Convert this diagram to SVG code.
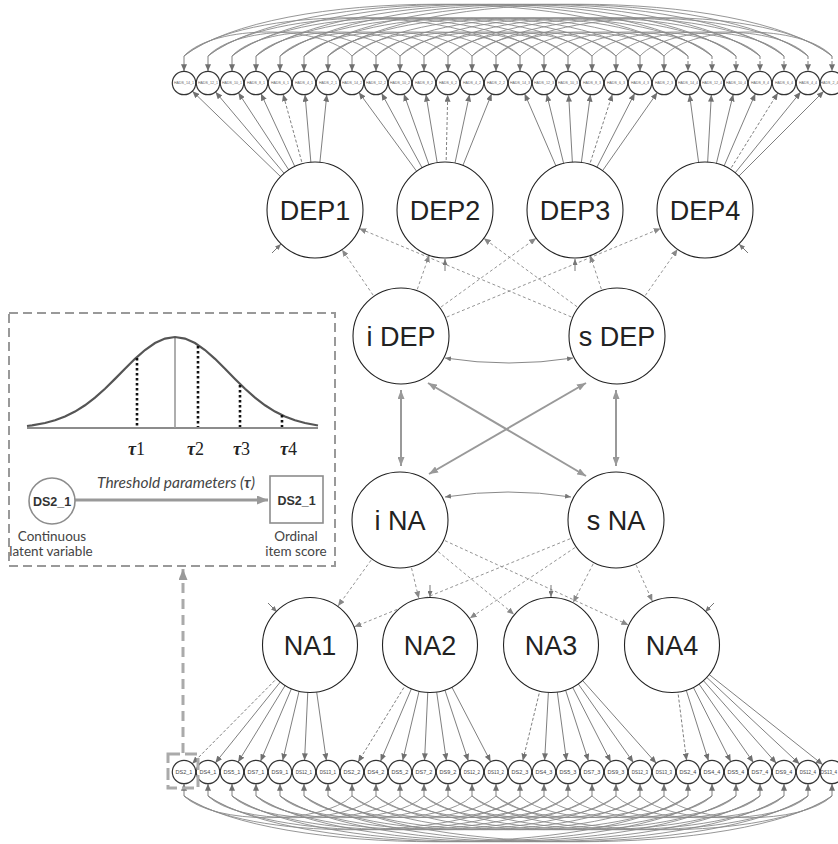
<svg xmlns="http://www.w3.org/2000/svg" xmlns:xlink="http://www.w3.org/1999/xlink" width="838" height="844" viewBox="0 0 838 844">
<style>
.big circle{fill:#fff;stroke:#222;stroke-width:1.1}
.big text{font-family:"Liberation Sans",Arial,sans-serif;font-size:27px;text-anchor:middle;fill:#222}
.it circle{fill:#fff;stroke:#333;stroke-width:1.2}
.it text{font-family:"Liberation Sans",Arial,sans-serif;font-size:3.6px;text-anchor:middle;fill:#666}
.ds text{font-size:5.5px;fill:#444}
.ds text.s{font-size:4.5px}
.ld{stroke:#707070;stroke-width:0.9;fill:none;marker-end:url(#ahI)}
.dd{stroke-dasharray:3 2}
.gl{stroke:#888;stroke-width:0.9;stroke-dasharray:3 2.5;fill:none;marker-end:url(#ahB)}
.arc{fill:none;stroke:#8a8a8a;stroke-width:0.9}
.cv{stroke:#999;stroke-width:2;fill:none;marker-start:url(#ahG);marker-end:url(#ahG)}
.cc{stroke:#888;stroke-width:1;fill:none;marker-start:url(#ahS);marker-end:url(#ahS)}
.rs{stroke:#777;stroke-width:1;fill:none;marker-end:url(#ahS)}
.lbl{font-family:Lato,"Open Sans","Liberation Sans",sans-serif;fill:#444;text-anchor:middle}
.tau{font-family:"Liberation Serif","DejaVu Serif",serif;font-size:18px;fill:#222}
</style>
<defs>
<marker id="ahI" markerUnits="userSpaceOnUse" markerWidth="19" markerHeight="6" refX="18.7" refY="3" orient="auto"><path d="M0,0 L7,3 L0,6 z" fill="#707070"/></marker>
<marker id="ahB" markerUnits="userSpaceOnUse" markerWidth="56" markerHeight="6" refX="55" refY="3" orient="auto"><path d="M0,0 L7,3 L0,6 z" fill="#888"/></marker>
<marker id="ahG" markerUnits="userSpaceOnUse" markerWidth="9" markerHeight="7" refX="9" refY="3.5" orient="auto-start-reverse"><path d="M0,0 L9,3.5 L0,7 z" fill="#999"/></marker>
<marker id="ahS" markerUnits="userSpaceOnUse" markerWidth="6" markerHeight="5" refX="6" refY="2.5" orient="auto-start-reverse"><path d="M0,0 L6,2.5 L0,5 z" fill="#777"/></marker>
<marker id="ahT" markerUnits="userSpaceOnUse" markerWidth="11" markerHeight="9" refX="11" refY="4.5" orient="auto"><path d="M0,0 L11,4.5 L0,9 z" fill="#999"/></marker>
<path id="t1" d="M0,0 C30,-32 138,-32 168,0"/>
<path id="t2" d="M0,0 C60,-51 276,-51 336,0"/>
<path id="t3" d="M0,0 C90,-69 414,-69 504,0"/>
<path id="b1" d="M0,0 C30,29 138,29 168,0"/>
<path id="b2" d="M0,0 C60,45 276,45 336,0"/>
<path id="b3" d="M0,0 C90,61 414,61 504,0"/>
</defs>
<rect width="838" height="844" fill="#fff"/>
<g id="connectors">
<g id="top-arcs" class="arc">
<use href="#t1" x="184" y="56"/><use href="#t1" x="208" y="56"/><use href="#t1" x="232" y="56"/><use href="#t1" x="256" y="56"/><use href="#t1" x="280" y="56"/><use href="#t1" x="304" y="56"/><use href="#t1" x="328" y="56"/>
<use href="#t1" x="352" y="56"/><use href="#t1" x="376" y="56"/><use href="#t1" x="400" y="56"/><use href="#t1" x="424" y="56"/><use href="#t1" x="448" y="56"/><use href="#t1" x="472" y="56"/><use href="#t1" x="496" y="56"/>
<use href="#t1" x="520" y="56"/><use href="#t1" x="544" y="56"/><use href="#t1" x="568" y="56"/><use href="#t1" x="592" y="56"/><use href="#t1" x="616" y="56"/><use href="#t1" x="640" y="56"/><use href="#t1" x="664" y="56"/>
<use href="#t2" x="184" y="56"/><use href="#t2" x="208" y="56"/><use href="#t2" x="232" y="56"/><use href="#t2" x="256" y="56"/><use href="#t2" x="280" y="56"/><use href="#t2" x="304" y="56"/><use href="#t2" x="328" y="56"/>
<use href="#t2" x="352" y="56"/><use href="#t2" x="376" y="56"/><use href="#t2" x="400" y="56"/><use href="#t2" x="424" y="56"/><use href="#t2" x="448" y="56"/><use href="#t2" x="472" y="56"/><use href="#t2" x="496" y="56"/>
<use href="#t3" x="184" y="56"/><use href="#t3" x="208" y="56"/><use href="#t3" x="232" y="56"/><use href="#t3" x="256" y="56"/><use href="#t3" x="280" y="56"/><use href="#t3" x="304" y="56"/><use href="#t3" x="328" y="56"/>
</g>
<g id="bottom-arcs" class="arc">
<use href="#b1" x="184" y="796"/><use href="#b1" x="208" y="796"/><use href="#b1" x="232" y="796"/><use href="#b1" x="256" y="796"/><use href="#b1" x="280" y="796"/><use href="#b1" x="304" y="796"/><use href="#b1" x="328" y="796"/>
<use href="#b1" x="352" y="796"/><use href="#b1" x="376" y="796"/><use href="#b1" x="400" y="796"/><use href="#b1" x="424" y="796"/><use href="#b1" x="448" y="796"/><use href="#b1" x="472" y="796"/><use href="#b1" x="496" y="796"/>
<use href="#b1" x="520" y="796"/><use href="#b1" x="544" y="796"/><use href="#b1" x="568" y="796"/><use href="#b1" x="592" y="796"/><use href="#b1" x="616" y="796"/><use href="#b1" x="640" y="796"/><use href="#b1" x="664" y="796"/>
<use href="#b2" x="184" y="796"/><use href="#b2" x="208" y="796"/><use href="#b2" x="232" y="796"/><use href="#b2" x="256" y="796"/><use href="#b2" x="280" y="796"/><use href="#b2" x="304" y="796"/><use href="#b2" x="328" y="796"/>
<use href="#b2" x="352" y="796"/><use href="#b2" x="376" y="796"/><use href="#b2" x="400" y="796"/><use href="#b2" x="424" y="796"/><use href="#b2" x="448" y="796"/><use href="#b2" x="472" y="796"/><use href="#b2" x="496" y="796"/>
<use href="#b3" x="184" y="796"/><use href="#b3" x="208" y="796"/><use href="#b3" x="232" y="796"/><use href="#b3" x="256" y="796"/><use href="#b3" x="280" y="796"/><use href="#b3" x="304" y="796"/><use href="#b3" x="328" y="796"/>
</g>
<g id="top-stubs">
<line class="ld" x1="184" y1="56" x2="184" y2="83"/><line class="ld" x1="208" y1="56" x2="208" y2="83"/><line class="ld" x1="232" y1="56" x2="232" y2="83"/><line class="ld" x1="256" y1="56" x2="256" y2="83"/><line class="ld" x1="280" y1="56" x2="280" y2="83"/><line class="ld" x1="304" y1="56" x2="304" y2="83"/><line class="ld" x1="328" y1="56" x2="328" y2="83"/>
<line class="ld" x1="352" y1="56" x2="352" y2="83"/><line class="ld" x1="376" y1="56" x2="376" y2="83"/><line class="ld" x1="400" y1="56" x2="400" y2="83"/><line class="ld" x1="424" y1="56" x2="424" y2="83"/><line class="ld" x1="448" y1="56" x2="448" y2="83"/><line class="ld" x1="472" y1="56" x2="472" y2="83"/><line class="ld" x1="496" y1="56" x2="496" y2="83"/>
<line class="ld" x1="520" y1="56" x2="520" y2="83"/><line class="ld" x1="544" y1="56" x2="544" y2="83"/><line class="ld" x1="568" y1="56" x2="568" y2="83"/><line class="ld" x1="592" y1="56" x2="592" y2="83"/><line class="ld" x1="616" y1="56" x2="616" y2="83"/><line class="ld" x1="640" y1="56" x2="640" y2="83"/><line class="ld" x1="664" y1="56" x2="664" y2="83"/>
<line class="ld dd" x1="688" y1="56" x2="688" y2="83"/><line class="ld dd" x1="712" y1="56" x2="712" y2="83"/><line class="ld dd" x1="736" y1="56" x2="736" y2="83"/><line class="ld dd" x1="760" y1="56" x2="760" y2="83"/><line class="ld dd" x1="784" y1="56" x2="784" y2="83"/><line class="ld dd" x1="808" y1="56" x2="808" y2="83"/><line class="ld dd" x1="832" y1="56" x2="832" y2="83"/>
</g>
<g id="bottom-stubs">
<line class="ld" x1="184" y1="796" x2="184" y2="772"/><line class="ld" x1="208" y1="796" x2="208" y2="772"/><line class="ld" x1="232" y1="796" x2="232" y2="772"/><line class="ld" x1="256" y1="796" x2="256" y2="772"/><line class="ld" x1="280" y1="796" x2="280" y2="772"/><line class="ld" x1="304" y1="796" x2="304" y2="772"/><line class="ld" x1="328" y1="796" x2="328" y2="772"/>
<line class="ld" x1="352" y1="796" x2="352" y2="772"/><line class="ld" x1="376" y1="796" x2="376" y2="772"/><line class="ld" x1="400" y1="796" x2="400" y2="772"/><line class="ld" x1="424" y1="796" x2="424" y2="772"/><line class="ld" x1="448" y1="796" x2="448" y2="772"/><line class="ld" x1="472" y1="796" x2="472" y2="772"/><line class="ld" x1="496" y1="796" x2="496" y2="772"/>
<line class="ld" x1="520" y1="796" x2="520" y2="772"/><line class="ld" x1="544" y1="796" x2="544" y2="772"/><line class="ld" x1="568" y1="796" x2="568" y2="772"/><line class="ld" x1="592" y1="796" x2="592" y2="772"/><line class="ld" x1="616" y1="796" x2="616" y2="772"/><line class="ld" x1="640" y1="796" x2="640" y2="772"/><line class="ld" x1="664" y1="796" x2="664" y2="772"/>
<line class="ld" x1="688" y1="796" x2="688" y2="772"/><line class="ld" x1="712" y1="796" x2="712" y2="772"/><line class="ld" x1="736" y1="796" x2="736" y2="772"/><line class="ld" x1="760" y1="796" x2="760" y2="772"/><line class="ld" x1="784" y1="796" x2="784" y2="772"/><line class="ld" x1="808" y1="796" x2="808" y2="772"/><line class="ld" x1="832" y1="796" x2="832" y2="772"/>
</g>
<g id="dep-loadings">
<line class="ld" x1="315" y1="210" x2="184" y2="83"/><line class="ld" x1="315" y1="210" x2="208" y2="83"/><line class="ld" x1="315" y1="210" x2="232" y2="83"/><line class="ld" x1="315" y1="210" x2="256" y2="83"/><line class="ld dd" x1="315" y1="210" x2="280" y2="83"/><line class="ld" x1="315" y1="210" x2="304" y2="83"/><line class="ld" x1="315" y1="210" x2="328" y2="83"/>
<line class="ld" x1="445" y1="210" x2="352" y2="83"/><line class="ld" x1="445" y1="210" x2="376" y2="83"/><line class="ld" x1="445" y1="210" x2="400" y2="83"/><line class="ld" x1="445" y1="210" x2="424" y2="83"/><line class="ld dd" x1="445" y1="210" x2="448" y2="83"/><line class="ld" x1="445" y1="210" x2="472" y2="83"/><line class="ld" x1="445" y1="210" x2="496" y2="83"/>
<line class="ld" x1="575" y1="210" x2="520" y2="83"/><line class="ld" x1="575" y1="210" x2="544" y2="83"/><line class="ld" x1="575" y1="210" x2="568" y2="83"/><line class="ld" x1="575" y1="210" x2="592" y2="83"/><line class="ld dd" x1="575" y1="210" x2="616" y2="83"/><line class="ld" x1="575" y1="210" x2="640" y2="83"/><line class="ld" x1="575" y1="210" x2="664" y2="83"/>
<line class="ld" x1="705" y1="210" x2="688" y2="83"/><line class="ld" x1="705" y1="210" x2="712" y2="83"/><line class="ld" x1="705" y1="210" x2="736" y2="83"/><line class="ld" x1="705" y1="210" x2="760" y2="83"/><line class="ld dd" x1="705" y1="210" x2="784" y2="83"/><line class="ld" x1="705" y1="210" x2="808" y2="83"/><line class="ld" x1="705" y1="210" x2="832" y2="83"/>
</g>
<g id="na-loadings">
<line class="ld dd" x1="310" y1="645" x2="184" y2="772"/><line class="ld" x1="310" y1="645" x2="208" y2="772"/><line class="ld" x1="310" y1="645" x2="232" y2="772"/><line class="ld" x1="310" y1="645" x2="256" y2="772"/><line class="ld" x1="310" y1="645" x2="280" y2="772"/><line class="ld" x1="310" y1="645" x2="304" y2="772"/><line class="ld" x1="310" y1="645" x2="328" y2="772"/>
<line class="ld dd" x1="430" y1="645" x2="352" y2="772"/><line class="ld" x1="430" y1="645" x2="376" y2="772"/><line class="ld" x1="430" y1="645" x2="400" y2="772"/><line class="ld" x1="430" y1="645" x2="424" y2="772"/><line class="ld" x1="430" y1="645" x2="448" y2="772"/><line class="ld" x1="430" y1="645" x2="472" y2="772"/><line class="ld" x1="430" y1="645" x2="496" y2="772"/>
<line class="ld dd" x1="551" y1="645" x2="520" y2="772"/><line class="ld" x1="551" y1="645" x2="544" y2="772"/><line class="ld" x1="551" y1="645" x2="568" y2="772"/><line class="ld" x1="551" y1="645" x2="592" y2="772"/><line class="ld" x1="551" y1="645" x2="616" y2="772"/><line class="ld" x1="551" y1="645" x2="640" y2="772"/><line class="ld" x1="551" y1="645" x2="664" y2="772"/>
<line class="ld dd" x1="672" y1="645" x2="688" y2="772"/><line class="ld" x1="672" y1="645" x2="712" y2="772"/><line class="ld" x1="672" y1="645" x2="736" y2="772"/><line class="ld" x1="672" y1="645" x2="760" y2="772"/><line class="ld" x1="672" y1="645" x2="784" y2="772"/><line class="ld" x1="672" y1="645" x2="808" y2="772"/><line class="ld" x1="672" y1="645" x2="832" y2="772"/>
</g>
<g id="growth-loadings">
<line class="gl" x1="401" y1="336" x2="315" y2="210"/><line class="gl" x1="401" y1="336" x2="445" y2="210"/><line class="gl" x1="401" y1="336" x2="575" y2="210"/><line class="gl" x1="401" y1="336" x2="705" y2="210"/>
<line class="gl" x1="617" y1="336" x2="315" y2="210"/><line class="gl" x1="617" y1="336" x2="445" y2="210"/><line class="gl" x1="617" y1="336" x2="575" y2="210"/><line class="gl" x1="617" y1="336" x2="705" y2="210"/>
<line class="gl" x1="400" y1="520" x2="310" y2="645"/><line class="gl" x1="400" y1="520" x2="430" y2="645"/><line class="gl" x1="400" y1="520" x2="551" y2="645"/><line class="gl" x1="400" y1="520" x2="672" y2="645"/>
<line class="gl" x1="616" y1="520" x2="310" y2="645"/><line class="gl" x1="616" y1="520" x2="430" y2="645"/><line class="gl" x1="616" y1="520" x2="551" y2="645"/><line class="gl" x1="616" y1="520" x2="672" y2="645"/>
</g>
<g id="covariances">
<path class="cc" d="M445,358 Q509,368 573,358"/>
<path class="cc" d="M445,497 Q508,487 571,497"/>
<line class="cv" x1="401" y1="390" x2="401" y2="466"/>
<line class="cv" x1="616" y1="390" x2="616" y2="466"/>
<line class="cv" x1="428" y1="383" x2="586" y2="476"/>
<line class="cv" x1="586" y1="383" x2="429" y2="474"/>
</g>
<g id="residuals">
<line class="rs" x1="272" y1="253" x2="281" y2="244"/>
<line class="rs" x1="445" y1="271" x2="445" y2="259"/>
<line class="rs" x1="575" y1="271" x2="575" y2="259"/>
<line class="rs" x1="748" y1="253" x2="739" y2="244"/>
<line class="rs" x1="268" y1="603" x2="277" y2="612"/>
<line class="rs" x1="430" y1="585" x2="430" y2="597"/>
<line class="rs" x1="551" y1="585" x2="551" y2="597"/>
<line class="rs" x1="714" y1="603" x2="705" y2="612"/>
</g>
</g>
<g id="nodes">
<g id="DEP1" class="big"><circle cx="315" cy="210" r="48"/><text x="315" y="220">DEP1</text></g>
<g id="DEP2" class="big"><circle cx="445" cy="210" r="48"/><text x="445" y="220">DEP2</text></g>
<g id="DEP3" class="big"><circle cx="575" cy="210" r="48"/><text x="575" y="220">DEP3</text></g>
<g id="DEP4" class="big"><circle cx="705" cy="210" r="48"/><text x="705" y="220">DEP4</text></g>
<g id="iDEP" class="big"><circle cx="401" cy="336" r="48"/><text x="401" y="346">i DEP</text></g>
<g id="sDEP" class="big"><circle cx="617" cy="336" r="48"/><text x="617" y="346">s DEP</text></g>
<g id="iNA" class="big"><circle cx="400" cy="520" r="48"/><text x="400" y="530">i NA</text></g>
<g id="sNA" class="big"><circle cx="616" cy="520" r="48"/><text x="616" y="530">s NA</text></g>
<g id="NA1" class="big"><circle cx="310" cy="645" r="47.5"/><text x="310" y="655">NA1</text></g>
<g id="NA2" class="big"><circle cx="430" cy="645" r="47.5"/><text x="430" y="655">NA2</text></g>
<g id="NA3" class="big"><circle cx="551" cy="645" r="47.5"/><text x="551" y="655">NA3</text></g>
<g id="NA4" class="big"><circle cx="672" cy="645" r="47.5"/><text x="672" y="655">NA4</text></g>
<g id="HADS_14_1" class="it"><circle cx="184" cy="83" r="11.7"/><text x="184" y="84.3">HADS_14_1</text></g>
<g id="HADS_12_1" class="it"><circle cx="208" cy="83" r="11.7"/><text x="208" y="84.3">HADS_12_1</text></g>
<g id="HADS_10_1" class="it"><circle cx="232" cy="83" r="11.7"/><text x="232" y="84.3">HADS_10_1</text></g>
<g id="HADS_8_1" class="it"><circle cx="256" cy="83" r="11.7"/><text x="256" y="84.3">HADS_8_1</text></g>
<g id="HADS_6_1" class="it"><circle cx="280" cy="83" r="11.7"/><text x="280" y="84.3">HADS_6_1</text></g>
<g id="HADS_4_1" class="it"><circle cx="304" cy="83" r="11.7"/><text x="304" y="84.3">HADS_4_1</text></g>
<g id="HADS_2_1" class="it"><circle cx="328" cy="83" r="11.7"/><text x="328" y="84.3">HADS_2_1</text></g>
<g id="HADS_14_2" class="it"><circle cx="352" cy="83" r="11.7"/><text x="352" y="84.3">HADS_14_2</text></g>
<g id="HADS_12_2" class="it"><circle cx="376" cy="83" r="11.7"/><text x="376" y="84.3">HADS_12_2</text></g>
<g id="HADS_10_2" class="it"><circle cx="400" cy="83" r="11.7"/><text x="400" y="84.3">HADS_10_2</text></g>
<g id="HADS_8_2" class="it"><circle cx="424" cy="83" r="11.7"/><text x="424" y="84.3">HADS_8_2</text></g>
<g id="HADS_6_2" class="it"><circle cx="448" cy="83" r="11.7"/><text x="448" y="84.3">HADS_6_2</text></g>
<g id="HADS_4_2" class="it"><circle cx="472" cy="83" r="11.7"/><text x="472" y="84.3">HADS_4_2</text></g>
<g id="HADS_2_2" class="it"><circle cx="496" cy="83" r="11.7"/><text x="496" y="84.3">HADS_2_2</text></g>
<g id="HADS_14_3" class="it"><circle cx="520" cy="83" r="11.7"/><text x="520" y="84.3">HADS_14_3</text></g>
<g id="HADS_12_3" class="it"><circle cx="544" cy="83" r="11.7"/><text x="544" y="84.3">HADS_12_3</text></g>
<g id="HADS_10_3" class="it"><circle cx="568" cy="83" r="11.7"/><text x="568" y="84.3">HADS_10_3</text></g>
<g id="HADS_8_3" class="it"><circle cx="592" cy="83" r="11.7"/><text x="592" y="84.3">HADS_8_3</text></g>
<g id="HADS_6_3" class="it"><circle cx="616" cy="83" r="11.7"/><text x="616" y="84.3">HADS_6_3</text></g>
<g id="HADS_4_3" class="it"><circle cx="640" cy="83" r="11.7"/><text x="640" y="84.3">HADS_4_3</text></g>
<g id="HADS_2_3" class="it"><circle cx="664" cy="83" r="11.7"/><text x="664" y="84.3">HADS_2_3</text></g>
<g id="HADS_14_4" class="it"><circle cx="688" cy="83" r="11.7"/><text x="688" y="84.3">HADS_14_4</text></g>
<g id="HADS_12_4" class="it"><circle cx="712" cy="83" r="11.7"/><text x="712" y="84.3">HADS_12_4</text></g>
<g id="HADS_10_4" class="it"><circle cx="736" cy="83" r="11.7"/><text x="736" y="84.3">HADS_10_4</text></g>
<g id="HADS_8_4" class="it"><circle cx="760" cy="83" r="11.7"/><text x="760" y="84.3">HADS_8_4</text></g>
<g id="HADS_6_4" class="it"><circle cx="784" cy="83" r="11.7"/><text x="784" y="84.3">HADS_6_4</text></g>
<g id="HADS_4_4" class="it"><circle cx="808" cy="83" r="11.7"/><text x="808" y="84.3">HADS_4_4</text></g>
<g id="HADS_2_4" class="it"><circle cx="832" cy="83" r="11.7"/><text x="829.5" y="84.3">HADS_2_4</text></g>
<g id="DS2_1" class="it ds"><circle cx="184" cy="772" r="11.7"/><text x="184" y="774">DS2_1</text></g>
<g id="DS4_1" class="it ds"><circle cx="208" cy="772" r="11.7"/><text x="208" y="774">DS4_1</text></g>
<g id="DS5_1" class="it ds"><circle cx="232" cy="772" r="11.7"/><text x="232" y="774">DS5_1</text></g>
<g id="DS7_1" class="it ds"><circle cx="256" cy="772" r="11.7"/><text x="256" y="774">DS7_1</text></g>
<g id="DS9_1" class="it ds"><circle cx="280" cy="772" r="11.7"/><text x="280" y="774">DS9_1</text></g>
<g id="DS12_1" class="it ds"><circle cx="304" cy="772" r="11.7"/><text class="s" x="304" y="773.6">DS12_1</text></g>
<g id="DS13_1" class="it ds"><circle cx="328" cy="772" r="11.7"/><text class="s" x="328" y="773.6">DS13_1</text></g>
<g id="DS2_2" class="it ds"><circle cx="352" cy="772" r="11.7"/><text x="352" y="774">DS2_2</text></g>
<g id="DS4_2" class="it ds"><circle cx="376" cy="772" r="11.7"/><text x="376" y="774">DS4_2</text></g>
<g id="DS5_2" class="it ds"><circle cx="400" cy="772" r="11.7"/><text x="400" y="774">DS5_2</text></g>
<g id="DS7_2" class="it ds"><circle cx="424" cy="772" r="11.7"/><text x="424" y="774">DS7_2</text></g>
<g id="DS9_2" class="it ds"><circle cx="448" cy="772" r="11.7"/><text x="448" y="774">DS9_2</text></g>
<g id="DS12_2" class="it ds"><circle cx="472" cy="772" r="11.7"/><text class="s" x="472" y="773.6">DS12_2</text></g>
<g id="DS13_2" class="it ds"><circle cx="496" cy="772" r="11.7"/><text class="s" x="496" y="773.6">DS13_2</text></g>
<g id="DS2_3" class="it ds"><circle cx="520" cy="772" r="11.7"/><text x="520" y="774">DS2_3</text></g>
<g id="DS4_3" class="it ds"><circle cx="544" cy="772" r="11.7"/><text x="544" y="774">DS4_3</text></g>
<g id="DS5_3" class="it ds"><circle cx="568" cy="772" r="11.7"/><text x="568" y="774">DS5_3</text></g>
<g id="DS7_3" class="it ds"><circle cx="592" cy="772" r="11.7"/><text x="592" y="774">DS7_3</text></g>
<g id="DS9_3" class="it ds"><circle cx="616" cy="772" r="11.7"/><text x="616" y="774">DS9_3</text></g>
<g id="DS12_3" class="it ds"><circle cx="640" cy="772" r="11.7"/><text class="s" x="640" y="773.6">DS12_3</text></g>
<g id="DS13_3" class="it ds"><circle cx="664" cy="772" r="11.7"/><text class="s" x="664" y="773.6">DS13_3</text></g>
<g id="DS2_4" class="it ds"><circle cx="688" cy="772" r="11.7"/><text x="688" y="774">DS2_4</text></g>
<g id="DS4_4" class="it ds"><circle cx="712" cy="772" r="11.7"/><text x="712" y="774">DS4_4</text></g>
<g id="DS5_4" class="it ds"><circle cx="736" cy="772" r="11.7"/><text x="736" y="774">DS5_4</text></g>
<g id="DS7_4" class="it ds"><circle cx="760" cy="772" r="11.7"/><text x="760" y="774">DS7_4</text></g>
<g id="DS9_4" class="it ds"><circle cx="784" cy="772" r="11.7"/><text x="784" y="774">DS9_4</text></g>
<g id="DS12_4" class="it ds"><circle cx="808" cy="772" r="11.7"/><text class="s" x="808" y="773.6">DS12_4</text></g>
<g id="DS13_4" class="it ds"><circle cx="832" cy="772" r="11.7"/><text class="s" x="829" y="773.6">DS13_4</text></g>
</g>
<g id="inset">
<rect x="9" y="313" width="326" height="253" fill="none" stroke="#999" stroke-width="2" stroke-dasharray="9 5"/>
<line x1="27" y1="428" x2="318" y2="428" stroke="#8c8c8c" stroke-width="2.2"/>
<line x1="175" y1="337" x2="175" y2="428" stroke="#9a9a9a" stroke-width="1.6"/>
<polyline fill="none" stroke="#555" stroke-width="2.2" points="27,426 32,425.3 45,423 55,420.3 65,416.6 75,411.6 85,405.3 95,397.6 105,388.7 115,378.9 125,368.7 135,358.8 145,350 155,343 165,338.6 175,337 185,338.6 195,343 205,350 215,358.8 225,368.7 235,378.9 245,388.7 255,397.6 265,405.3 275,411.6 285,416.6 295,420.3 305,423 318,425.5"/>
<g stroke="#111" stroke-width="2.6" stroke-dasharray="2.6 2.4">
<line x1="137" y1="358" x2="137" y2="427"/>
<line x1="198" y1="346" x2="198" y2="427"/>
<line x1="240" y1="385" x2="240" y2="427"/>
<line x1="282" y1="415" x2="282" y2="427"/>
</g>
<text class="tau" x="128" y="455"><tspan font-weight="bold" font-style="italic">τ</tspan>1</text>
<text class="tau" x="187" y="455"><tspan font-weight="bold" font-style="italic">τ</tspan>2</text>
<text class="tau" x="233" y="455"><tspan font-weight="bold" font-style="italic">τ</tspan>3</text>
<text class="tau" x="280" y="455"><tspan font-weight="bold" font-style="italic">τ</tspan>4</text>
<line x1="75" y1="500" x2="268" y2="500" stroke="#999" stroke-width="3" marker-end="url(#ahT)"/>
<g id="latent-DS2_1"><circle cx="52" cy="501" r="23" fill="#fff" stroke="#8c8c8c" stroke-width="1.6"/><text x="52" y="505.5" font-family="Liberation Sans,Arial,sans-serif" font-size="12.5" font-weight="bold" fill="#333" text-anchor="middle">DS2_1</text></g>
<g id="ordinal-DS2_1"><rect x="270" y="476" width="53" height="47" fill="#fff" stroke="#8c8c8c" stroke-width="1.6"/><text x="296.5" y="504.5" font-family="Liberation Sans,Arial,sans-serif" font-size="12.5" font-weight="bold" fill="#333" text-anchor="middle">DS2_1</text></g>
<text class="lbl" x="176" y="488" font-size="15.5" font-style="italic" fill="#333">Threshold parameters (<tspan font-weight="bold">τ</tspan>)</text>
<text class="lbl" x="52" y="541" font-size="13.5">Continuous</text>
<text class="lbl" x="51" y="556" font-size="13.5">latent variable</text>
<text class="lbl" x="296" y="541" font-size="13.5">Ordinal</text>
<text class="lbl" x="296" y="556" font-size="13.5">item score</text>
</g>
<g id="callout">
<line x1="183" y1="753" x2="183" y2="569" stroke="#aaa" stroke-width="3" stroke-dasharray="10 6" marker-end="url(#ahT)"/>
<rect x="168" y="754" width="30" height="34" fill="none" stroke="#aaa" stroke-width="3" stroke-dasharray="12 5"/>
</g>
</svg>
